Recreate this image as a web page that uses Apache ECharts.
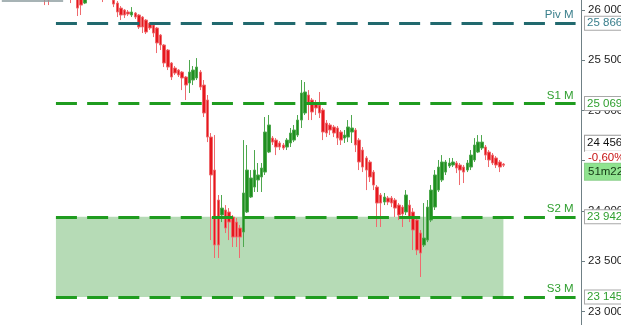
<!DOCTYPE html>
<html><head><meta charset="utf-8">
<script src="https://cdn.jsdelivr.net/npm/echarts@6/dist/echarts.min.js"></script>
<style>html,body{margin:0;padding:0;background:#fff;overflow:hidden}#c{width:621px;height:325px}</style>
</head><body><div id="c"></div>
<script>
// ---- data ----
const open = [
26340,26380,26350,26300,26330,26280,26310,26260,26290,26240,
26260,26220,26196,26117,26110,26160,26200,26170,26220,26196,
26127,26147,26117,26067,26117,26180,26230,26200,26196,26127,
26170,26097,26067,26017,25998,25978,25948,25968,25948,25928,
25898,25868,25849,25819,25749,25650,25600,25471,25421,25401,
25381,25332,25272,25302,25322,25381,25252,25103,24735,24407,
24109,23960,24010,23990,23940,23890,23831,23791,23990,24139,
24238,24308,24338,24387,24586,24725,24705,24676,24656,24636,
24676,24705,24755,24904,24974,25153,25103,25073,25053,25004,
24874,24855,24835,24825,24785,24725,24735,24785,24805,24705,
24606,24527,24487,24387,24238,24159,24089,24129,24129,24109,
24059,24039,23990,24059,23990,23910,23781,23662,23711,23910,
24039,24208,24308,24387,24447,24457,24477,24457,24437,24407,
24437,24507,24586,24626,24636,24586,24556,24527,24487,24467
];
const close = [
26380,26350,26300,26330,26280,26310,26260,26290,26240,26260,
26220,26180,26117,26097,26160,26200,26170,26220,26190,26127,
26150,26017,26047,26117,26180,26230,26200,26160,26127,26170,
26120,26057,25978,25948,25948,25958,25978,25928,25829,25829,
25779,25819,25769,25670,25650,25471,25431,25332,25371,25352,
25322,25252,25381,25401,25431,25232,24974,24735,24358,23662,
23662,24029,23831,23890,23741,23741,23741,24179,24407,24328,
24407,24358,24427,24785,24855,24685,24636,24636,24626,24705,
24775,24805,24904,25173,25183,25073,24984,25024,24974,24785,
24775,24805,24775,24725,24705,24755,24835,24825,24656,24487,
24437,24407,24338,24258,24079,24079,24139,24089,24079,24029,
23960,23970,24159,23940,23811,23612,23582,23731,24039,24208,
24358,24437,24487,24487,24477,24487,24427,24407,24387,24477,
24556,24656,24685,24685,24556,24507,24477,24457,24437,24456
];
const low = [
26310,26320,26270,26280,26250,26260,26230,26240,26200,26210,
26150,26120,26047,26047,26100,26140,26140,26150,26150,26067,
26105,25938,25948,26057,26105,26160,26170,26120,26077,26110,
26105,26027,25928,25898,25918,25938,25928,25908,25809,25769,
25759,25799,25729,25570,25600,25431,25401,25302,25352,25332,
25202,25103,25173,25252,25302,25202,24934,24685,23711,23533,
23533,23890,23781,23711,23642,23642,23533,23642,23980,24129,
24189,24189,24189,24358,24576,24656,24556,24606,24606,24606,
24636,24685,24735,24825,24954,24904,24904,24954,24924,24705,
24735,24755,24735,24656,24656,24676,24685,24676,24586,24407,
24387,24208,24288,24208,23841,23841,24059,24059,24039,23940,
23910,23841,23960,23890,23612,23562,23344,23642,23691,23890,
24010,24189,24288,24358,24427,24437,24377,24258,24278,24387,
24407,24487,24576,24606,24507,24437,24457,24427,24387,24437
];
const high = [
26420,26410,26380,26360,26350,26340,26330,26320,26310,26290,
26280,26240,26246,26147,26180,26230,26240,26250,26240,26246,
26180,26177,26147,26147,26200,26260,26260,26220,26246,26190,
26200,26117,26087,26037,26008,25998,26027,25978,25958,25938,
25908,25878,25858,25829,25759,25660,25610,25481,25441,25411,
25391,25342,25501,25441,25520,25401,25302,25153,24775,24755,
24159,24159,24059,24029,23960,23930,23861,24705,24656,24407,
24606,24477,24477,24934,24954,24745,24725,24695,24676,24725,
24825,24855,24954,25302,25282,25202,25123,25103,25183,25024,
24904,24874,24855,24845,24805,24805,24904,24954,24825,24725,
24636,24546,24507,24407,24258,24179,24179,24149,24149,24129,
24079,24059,24208,24109,24029,23940,23811,24079,24109,24258,
24407,24507,24556,24507,24527,24527,24497,24477,24457,24507,
24606,24725,24755,24755,24656,24606,24576,24546,24507,24477
];
const levelNames = ['Piv M', 'S1 M', 'S2 M', 'S3 M'];
const levelValues = [25866, 25069, 23942, 23145];
const lastPrice = 24456;
const changeText = '-0,60%';
const timerText = '51m22s';
const prevLevel = 26090;
const axisMin = 22500, axisMax = 26500, axisStep = 500;

// ---- layout / style ----
const slotCount = 161;
const lineStart = 15, lineEnd = 159, zoneEnd = 139, prevEnd = 17;
const cats = Array.from({length: slotCount}, (_, i) => String(i));
const candles = open.map((o, i) => [o, close[i], low[i], high[i]]);
const fmt = v => String(Math.round(v)).replace(/\B(?=(\d{3})+(?!\d))/g, ' ');
const FONT = '"Liberation Sans", Arial, sans-serif';
const levelColors = ['#21696e', '#1f9c1f', '#1f9c1f', '#1f9c1f'];
const textColors = ['#3a7f8c', '#2f9f2f', '#2f9f2f', '#2f9f2f'];
const HIDDEN = { color: 'rgba(0,0,0,0)', width: 0, type: 'solid' };

const lines = [];
levelValues.forEach((v, k) => {
  lines.push([
    { coord: [cats[lineStart], v],
      lineStyle: { color: levelColors[k], width: 3, type: [21, 10.2], opacity: 1 },
      label: { show: true, position: 'insideEndTop', formatter: levelNames[k],
               color: textColors[k], fontSize: 11.5, fontFamily: FONT, distance: 2 } },
    { coord: [cats[lineEnd], v] }
  ]);
  lines.push({
    yAxis: v, lineStyle: HIDDEN,
    label: { show: true, position: 'end', formatter: fmt(v), color: textColors[k],
             fontSize: 11.5, fontFamily: FONT, backgroundColor: '#fff',
             borderColor: '#a8a8a8', borderWidth: 1, padding: [1, 3, 0, 2], distance: 4 }
  });
});
lines.push([
  { coord: [cats[0], prevLevel], lineStyle: { color: '#8a9a9c', width: 1.5, type: 'solid', opacity: 1 },
    label: { show: false } },
  { coord: [cats[prevEnd], prevLevel] }
]);
lines.push({ yAxis: lastPrice, lineStyle: HIDDEN,
  label: { show: true, position: 'end', formatter: fmt(lastPrice), color: '#111', fontSize: 11.5, fontFamily: FONT,
           backgroundColor: '#fff', borderColor: '#999', borderWidth: 1, padding: [2, 30, 1, 2], offset: [0, -22], distance: 4 } });
lines.push({ yAxis: lastPrice, lineStyle: HIDDEN,
  label: { show: true, position: 'end', formatter: changeText, color: '#c81414', fontSize: 11.5, fontFamily: FONT,
           backgroundColor: '#fff', padding: [1, 30, 1, 3], offset: [0, -7.5], distance: 4 } });
lines.push({ yAxis: lastPrice, lineStyle: HIDDEN,
  label: { show: true, position: 'end', formatter: timerText, color: '#123612', fontSize: 11.5, fontFamily: FONT,
           backgroundColor: '#8fe38f', borderColor: '#8ad08a', borderWidth: 1, padding: [2, 30, 2, 3], offset: [0, 6.5], distance: 4 } });
lines.push([
  { coord: [cats[slotCount - 1], lastPrice], lineStyle: { color: '#111', width: 2, type: 'solid', opacity: 1 },
    label: { show: false } },
  { coord: [cats[slotCount - 1], lastPrice], x: '100%' }
]);

const chart = echarts.init(document.getElementById('c'), null, { renderer: 'canvas' });
chart.setOption({
  animation: false,
  backgroundColor: '#fff',
  grid: { left: 0, right: 40, top: -40.5, bottom: -36.9, containLabel: false, outerBoundsMode: 'none' },
  xAxis: { type: 'category', data: cats, boundaryGap: true, show: false },
  yAxis: {
    type: 'value', position: 'right', min: axisMin, max: axisMax, interval: axisStep,
    axisLine: { show: true, lineStyle: { color: '#6f8085', width: 1 } },
    axisTick: { show: true, length: 4, lineStyle: { color: '#6f8085' } },
    axisLabel: { show: true, color: '#222', fontSize: 11.5, fontFamily: FONT, margin: 7, formatter: fmt },
    splitLine: { show: false }
  },
  series: [
    { type: 'line', data: [], z: 1, silent: true,
      markArea: { silent: true, itemStyle: { color: '#b6dbb6', opacity: 1 },
        data: [[ { coord: [cats[lineStart], levelValues[2]] }, { coord: [cats[zoneEnd], levelValues[3]] } ]] } },
    { type: 'candlestick', data: candles, z: 3, barWidth: 3, clip: true,
      itemStyle: { color: '#1f8f1f', color0: '#e6171d', borderColor: '#4ea84e', borderColor0: '#ef6a6e', borderWidth: 1 } },
    { type: 'line', data: [], z: 5, silent: true,
      markLine: { silent: true, symbol: 'none', animation: false, data: lines.slice(0, lines.length - 1) } }
  ]
});
</script></body></html>
